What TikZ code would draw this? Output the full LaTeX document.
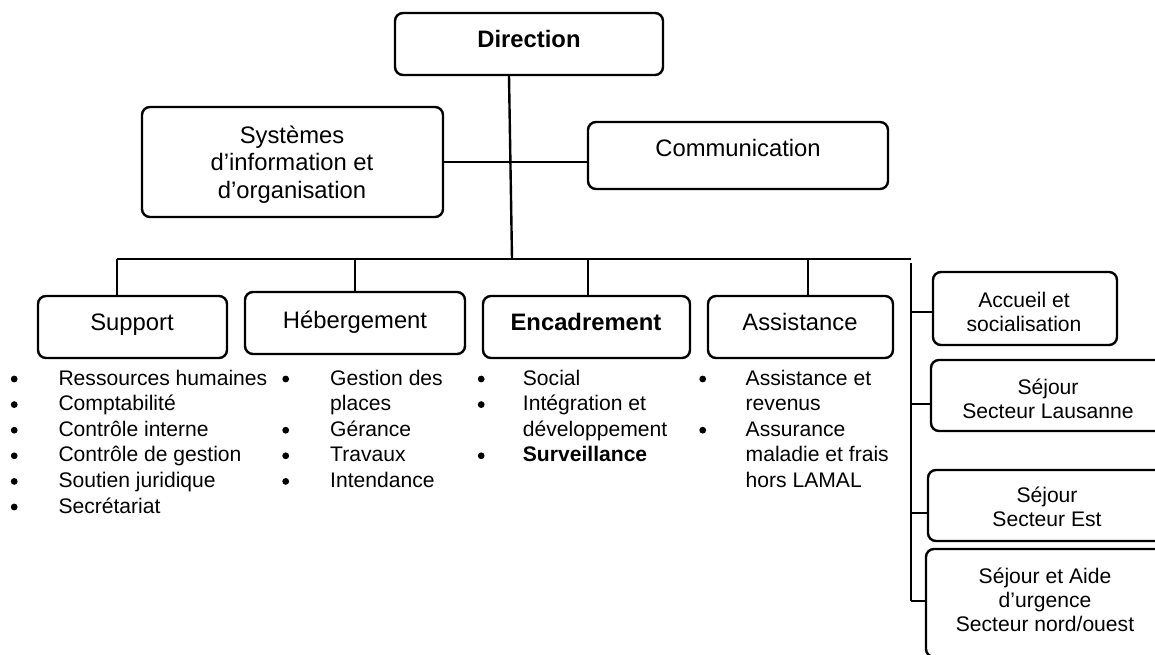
\documentclass[tikz,border=0pt]{standalone}
\usepackage{fontspec}
\setmainfont{Liberation Sans}
% box from corner (x1,y1) to corner (x2,y2), in pixel-like units with y pointing down
\newcommand\OrgBox[5]{\node[orgbox, minimum width={#4-#2}, minimum height={#5-#3}] (#1) at ({(#2+#4)/2},{(#3+#5)/2}) {};}
% round list bullet sitting on the text baseline
\newcommand\blt{\tikz[baseline=0pt]\fill (3.4pt,6pt) circle[radius=3.4pt];}
\begin{document}
\begin{tikzpicture}[x=1pt,y=-1pt,
  orgbox/.style={draw, line width=2.4pt, rounded corners=8pt, inner sep=0pt},
  conn/.style={line width=2.4pt},
  bigtxt/.style={font=\fontsize{23.8pt}{27.3pt}\selectfont, inner sep=0pt, anchor=base},
  smalltxt/.style={font=\fontsize{21.1pt}{24.2pt}\selectfont, inner sep=0pt, anchor=base},
  listtxt/.style={font=\fontsize{21.1pt}{25.6pt}\selectfont, inner sep=0pt, anchor=base west}]
\useasboundingbox (0,0) rectangle (1155,655);
\clip (0,0) rectangle (1155,655);
\fill[white] (0,0) rectangle (1155,655);

% boxes
\OrgBox{dir}{395}{13}{663}{75}
\OrgBox{sys}{142}{107}{443}{217}
\OrgBox{com}{588}{122}{888}{189}
\OrgBox{sup}{38}{296}{227}{358}
\OrgBox{heb}{245}{292}{465}{354}
\OrgBox{enc}{483}{296}{690}{358}
\OrgBox{ast}{708}{296}{893}{358}
\OrgBox{acc}{933}{272}{1117}{345}
\OrgBox{lau}{931}{360}{1175}{431}
\OrgBox{est}{928}{470}{1175}{541}
\OrgBox{nor}{926}{549}{1175}{657}

% box texts
\node[bigtxt] (dirt) at (529,48) {\textbf{Direction}};
\node[bigtxt] (syst) at (292,143.5) {\begin{tabular}[t]{@{}c@{}}Systèmes\\d’information et\\d’organisation\end{tabular}};
\node[bigtxt] (comt) at (738,157) {Communication};
\node[bigtxt] (supt) at (132,330) {Support};
\node[bigtxt] (hebt) at (355,328) {Hébergement};
\node[bigtxt] (enct) at (586,330) {\textbf{Encadrement}};
\node[bigtxt] (astt) at (800,330) {Assistance};
\node[smalltxt] (acct) at (1024,307) {\begin{tabular}[t]{@{}c@{}}Accueil et\\socialisation\end{tabular}};
\node[smalltxt] (laut) at (1048,394) {\begin{tabular}[t]{@{}c@{}}Séjour\\Secteur Lausanne\end{tabular}};
\node[smalltxt] (estt) at (1047,502) {\begin{tabular}[t]{@{}c@{}}Séjour\\Secteur Est\end{tabular}};
\node[smalltxt] (nort) at (1045,583) {\begin{tabular}[t]{@{}c@{}}Séjour et Aide\\d’urgence\\Secteur nord/ouest\end{tabular}};

% bullet lists
\node[listtxt] (supl) at (10.6,385) {\begin{tabular}[t]{@{}p{47.7pt}@{}l@{}}
\blt & Ressources humaines\\
\blt & Comptabilité\\
\blt & Contrôle interne\\
\blt & Contrôle de gestion\\
\blt & Soutien juridique\\
\blt & Secrétariat
\end{tabular}};
\node[listtxt] (hebl) at (282.1,385) {\begin{tabular}[t]{@{}p{47.9pt}@{}l@{}}
\blt & Gestion des\\
 & places\\
\blt & Gérance\\
\blt & Travaux\\
\blt & Intendance
\end{tabular}};
\node[listtxt] (encl) at (477.6,385) {\begin{tabular}[t]{@{}p{45.1pt}@{}l@{}}
\blt & Social\\
\blt & Intégration et\\
 & développement\\
\blt & \textbf{Surveillance}
\end{tabular}};
\node[listtxt] (astl) at (699.1,385) {\begin{tabular}[t]{@{}p{46.4pt}@{}l@{}}
\blt & Assistance et\\
 & revenus\\
\blt & Assurance\\
 & maladie et frais\\
 & hors LAMAL
\end{tabular}};

% connectors
\coordinate (busmid) at (512,259);
\coordinate (busL) at (117,259);
\coordinate (busR) at (911,259);
\draw[conn] ([xshift=-20pt]dir.south) -- (busmid);
\draw[conn] (sys.east) -- (sys.east -| com.west);
\draw[conn] (busL) -- (busR);
\draw[conn] (busL) -- (busL |- sup.north);
\draw[conn] (heb.north) -- (heb.north |- busL);
\draw[conn] ([xshift=1.5pt]enc.north) -- ([xshift=1.5pt]enc.north |- busL);
\draw[conn] ([xshift=7.5pt]ast.north) -- ([xshift=7.5pt]ast.north |- busL);

% side branch
\coordinate (vtop) at (911,263);
\coordinate (v1) at (911,312);
\coordinate (v2) at (911,404);
\coordinate (v3) at (911,513);
\coordinate (v4) at (911,601);
\draw[conn] (vtop) -- (v4);
\draw[conn] (v1) -- (v1 -| acc.west);
\draw[conn] (v2) -- (v2 -| lau.west);
\draw[conn] (v3) -- (v3 -| est.west);
\draw[conn] (v4) -- (v4 -| nor.west);
\end{tikzpicture}
\end{document}
